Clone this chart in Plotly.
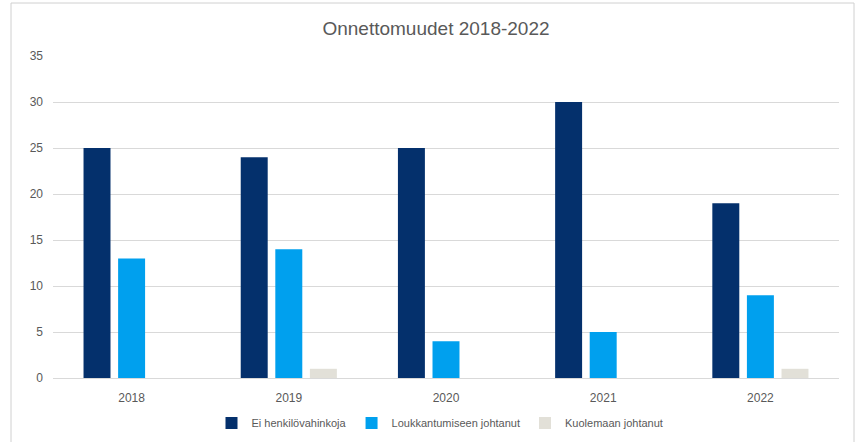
import plotly.graph_objects as go

years = ["2018", "2019", "2020", "2021", "2022"]
ei_henkilovahinkoja = [25, 24, 25, 30, 19]
loukkantumiseen = [13, 14, 4, 5, 9]
kuolemaan = [0, 1, 0, 0, 1]

series = [
    ("Ei henkilövahinkoja", ei_henkilovahinkoja, "#04306C"),
    ("Loukkantumiseen johtanut", loukkantumiseen, "#00A0EE"),
    ("Kuolemaan johtanut", kuolemaan, "#E2E0D8"),
]

fig = go.Figure()
for name, vals, col in series:
    fig.add_trace(go.Bar(x=years, y=vals, name=name, marker_color=col,
                         marker_line_width=0))

W, H = 856, 442
l, r, t, b = 53, 17, 56, 64
pw, ph = W - l - r, H - t - b

fig.update_layout(
    width=W, height=H,
    margin=dict(l=l, r=r, t=t, b=b, autoexpand=False),
    paper_bgcolor="white", plot_bgcolor="white",
    font=dict(family="Liberation Sans, Arial", size=11, color="#595959"),
    title=dict(text="Onnettomuudet 2018-2022", x=436 / W, xanchor="center",
               y=1 - 28 / H, yanchor="middle",
               font=dict(size=19, color="#595959")),
    barmode="group", bargap=0.34, bargroupgap=0.22,
    showlegend=True,
    legend=dict(orientation="h", x=(440 - l) / pw, xanchor="center",
                y=-(423 - (H - b)) / ph, yanchor="middle",
                font=dict(size=11, color="#595959"),
                itemwidth=30, tracegroupgap=0),
    xaxis=dict(showgrid=False, showline=True, linecolor="#D9D9D9",
               linewidth=1, ticks="", ticklabelstandoff=9,
               tickfont=dict(size=12)),
    yaxis=dict(range=[0, 35], dtick=5, showgrid=True, gridcolor="#D9D9D9",
               gridwidth=1, zeroline=False, showline=False, ticks="",
               ticklabelstandoff=9, tickfont=dict(size=12)),
)

fig.add_shape(type="rect", xref="paper", yref="paper",
              x0=(11 - l) / pw, x1=(854 - l) / pw,
              y0=((H - b) - 445) / ph, y1=((H - b) - 3) / ph,
              line=dict(color="#D0D0D0", width=1), fillcolor="rgba(0,0,0,0)",
              layer="below")

fig.write_html("out.html",
               config={"displayModeBar": False},
               post_script="document.body.style.margin='0px';document.body.style.padding='0px';")
